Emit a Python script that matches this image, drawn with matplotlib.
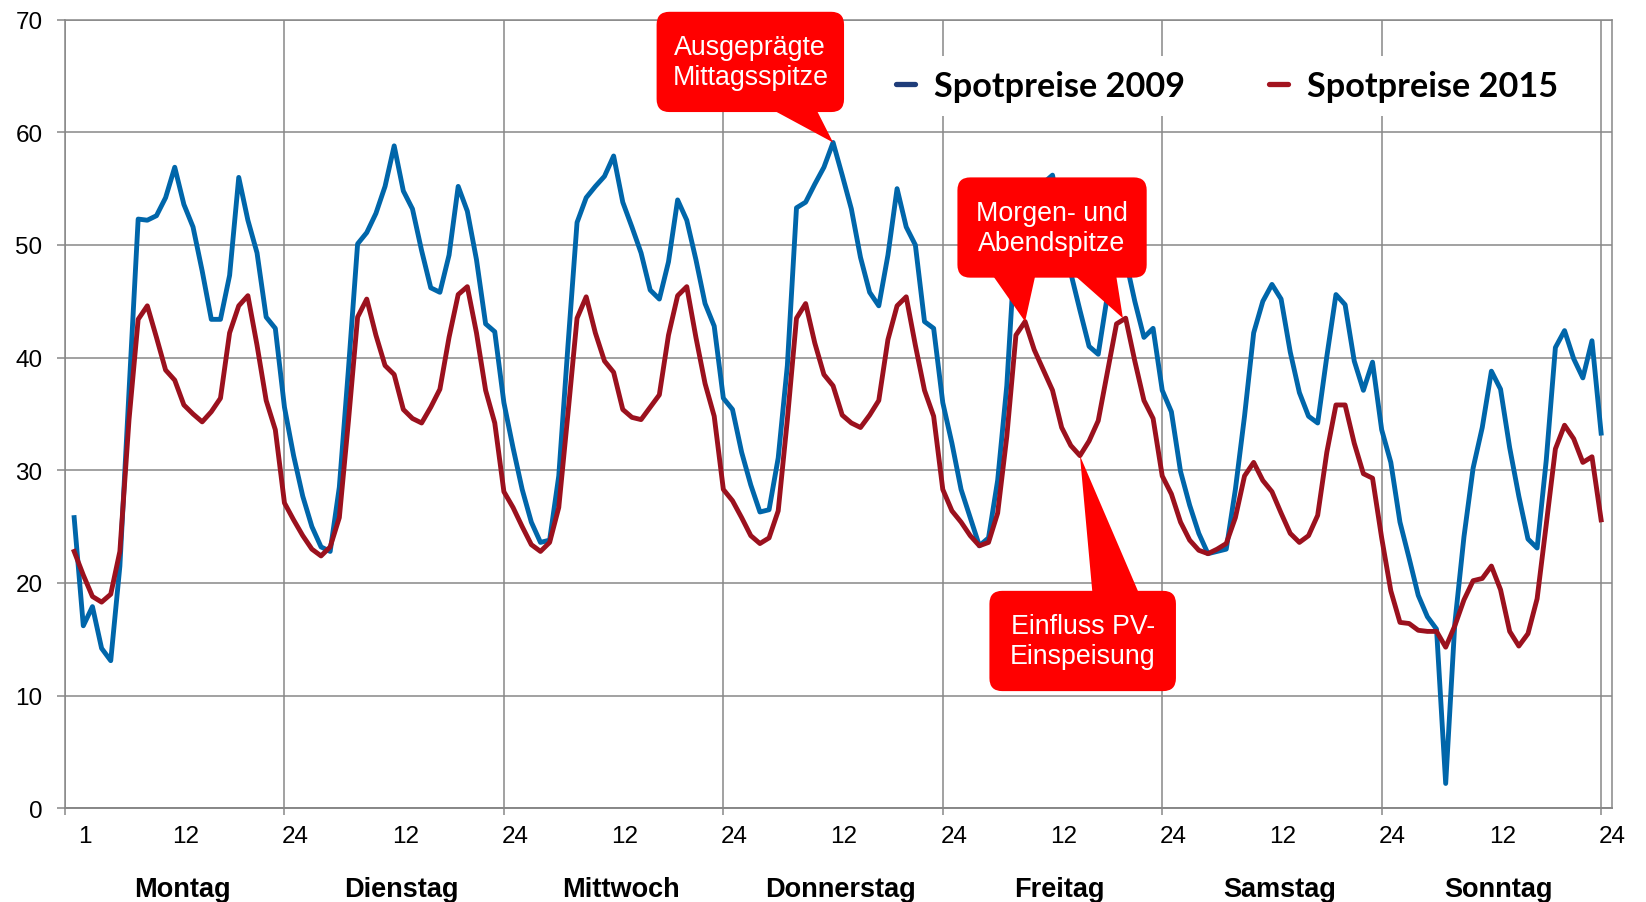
import numpy as np
import matplotlib.pyplot as plt
from matplotlib.patches import FancyBboxPatch, Polygon
from matplotlib.lines import Line2D

# Stundenwerte einer Woche (Mo 1 Uhr ... So 24 Uhr), Spotpreise in EUR/MWh
hours = np.arange(1, 169)
preise_2009 = [
    25.8, 16.2, 17.9, 14.2, 13.1, 21.5, 37.0, 52.3, 52.2, 52.6, 54.2, 56.9,
    53.6, 51.6, 47.7, 43.4, 43.4, 47.3, 56.0, 52.2, 49.3, 43.6, 42.6, 35.6,
    31.3, 27.7, 25.0, 23.2, 22.8, 28.5, 39.0, 50.1, 51.1, 52.8, 55.2, 58.8,
    54.8, 53.2, 49.5, 46.2, 45.8, 49.1, 55.2, 53.0, 48.7, 43.0, 42.3, 36.0,
    32.0, 28.3, 25.4, 23.6, 23.8, 29.5, 41.0, 52.0, 54.2, 55.2, 56.1, 57.9,
    53.8, 51.6, 49.3, 46.0, 45.2, 48.5, 54.0, 52.2, 48.7, 44.8, 42.8, 36.4,
    35.4, 31.6, 28.7, 26.3, 26.5, 31.1, 39.3, 53.3, 53.8, 55.4, 56.9, 59.1,
    56.2, 53.2, 48.9, 45.8, 44.6, 49.1, 55.0, 51.6, 50.0, 43.2, 42.6, 36.0,
    32.4, 28.3, 25.8, 23.3, 24.0, 29.1, 37.5, 51.0, 53.0, 54.0, 55.5, 56.2,
    52.0, 47.5, 44.2, 41.0, 40.3, 45.5, 50.5, 48.7, 45.0, 41.8, 42.6, 37.1,
    35.2, 29.9, 26.9, 24.4, 22.6, 22.8, 23.0, 28.3, 34.8, 42.2, 45.0, 46.5,
    45.2, 40.5, 36.9, 34.8, 34.2, 40.1, 45.6, 44.7, 39.7, 37.1, 39.6, 33.6,
    30.7, 25.4, 22.2, 18.9, 17.0, 15.9, 2.2, 16.4, 24.1, 30.2, 33.8, 38.8,
    37.2, 32.0, 27.7, 23.9, 23.1, 30.9, 40.9, 42.4, 39.9, 38.2, 41.5, 33.3,
]
preise_2015 = [
    22.8, 20.7, 18.8, 18.3, 19.0, 22.8, 34.5, 43.4, 44.6, 41.8, 38.9, 38.0,
    35.8, 35.0, 34.3, 35.2, 36.4, 42.2, 44.6, 45.5, 41.1, 36.2, 33.6, 27.1,
    25.6, 24.2, 23.0, 22.4, 23.2, 25.8, 34.4, 43.6, 45.2, 42.0, 39.3, 38.5,
    35.4, 34.6, 34.2, 35.6, 37.2, 41.8, 45.6, 46.3, 42.2, 37.1, 34.2, 28.1,
    26.7, 25.0, 23.4, 22.8, 23.6, 26.7, 35.0, 43.5, 45.4, 42.2, 39.7, 38.7,
    35.4, 34.7, 34.5, 35.6, 36.7, 42.0, 45.5, 46.3, 41.8, 37.7, 34.8, 28.3,
    27.3, 25.8, 24.2, 23.5, 24.0, 26.4, 34.5, 43.5, 44.8, 41.3, 38.5, 37.5,
    34.9, 34.2, 33.8, 34.9, 36.2, 41.6, 44.6, 45.4, 41.1, 37.1, 34.8, 28.3,
    26.4, 25.4, 24.2, 23.3, 23.6, 26.2, 33.0, 42.0, 43.2, 40.7, 38.9, 37.1,
    33.8, 32.2, 31.3, 32.6, 34.4, 38.7, 43.0, 43.5, 39.7, 36.2, 34.6, 29.5,
    27.9, 25.4, 23.8, 22.9, 22.6, 23.0, 23.5, 25.8, 29.5, 30.7, 29.1, 28.1,
    26.2, 24.4, 23.6, 24.2, 26.0, 31.6, 35.8, 35.8, 32.4, 29.7, 29.3, 24.0,
    19.3, 16.5, 16.4, 15.8, 15.7, 15.7, 14.3, 16.2, 18.5, 20.2, 20.4, 21.5,
    19.4, 15.7, 14.4, 15.5, 18.6, 25.2, 31.9, 34.0, 32.8, 30.7, 31.2, 25.6,
]
tage = ['Montag', 'Dienstag', 'Mittwoch', 'Donnerstag', 'Freitag', 'Samstag', 'Sonntag']
stunden_pos = [1] + [p for d in range(7) for p in (24 * d + 12, 24 * d + 24)]
stunden_txt = ['1'] + ['12', '24'] * 7

BLAU = '#0066AA'
ROT = '#9B111E'
GRID = '#878787'
CALLOUT = '#FF0000'
FONT = ['Liberation Sans', 'DejaVu Sans']

fig = plt.figure(figsize=(16.46, 9.03), dpi=100)
ax = fig.add_axes([0.0395, 0.1038, 0.9399, 0.8733])

ax.plot(hours, preise_2009, color=BLAU, lw=3.5, zorder=3)
ax.plot(hours, preise_2015, color=ROT, lw=3.5, zorder=3)

ax.set_xlim(0, 168)
ax.set_ylim(0, 70)
ax.set_yticks(np.arange(0, 71, 10))
ax.set_xticks(np.arange(0, 169, 24))
ax.set_xticklabels([])
# Stundenbeschriftung leicht rechts versetzt wie in der Excel-Vorlage
ax.set_xticks([p + 1.2 for p in stunden_pos], minor=True)
ax.set_xticklabels(stunden_txt, minor=True, fontsize=17.5, family=FONT)
ax.tick_params(axis='x', which='minor', length=0, pad=12)
ax.tick_params(axis='x', which='major', length=5, width=1.1, color=GRID)
ax.tick_params(axis='y', length=5.8, width=1.1, color=GRID, pad=10.5, labelsize=17.5)
for lab in ax.get_yticklabels():
    lab.set_family(FONT)

ax.grid(True, which='major', color=GRID, lw=1.1, zorder=0)
ax.set_axisbelow(True)
for s in ax.spines.values():
    s.set_color(GRID)
    s.set_linewidth(1.1)
ax.spines['bottom'].set_linewidth(1.4)

# Wochentage unter den Stundenlabels
for i, tag in enumerate(tage):
    ax.text(24 * i + 12.8, -0.111, tag, transform=ax.get_xaxis_transform(),
            ha='center', va='baseline', fontsize=19.5, fontweight='bold', family=FONT)


def callout(box, text, tails):
    h0, v0, h1, v1 = box
    aspect = 0.817
    ax.add_patch(FancyBboxPatch((h0, v0), h1 - h0, v1 - v0,
                                boxstyle='round,pad=0,rounding_size=1.4',
                                mutation_aspect=aspect, fc=CALLOUT, ec='none',
                                zorder=5, clip_on=False))
    for b0, b1, edge, tip_h, tip_v in tails:
        ax.add_patch(Polygon([(b0, edge), (b1, edge), (tip_h, tip_v)], closed=True,
                             fc=CALLOUT, ec='none', zorder=5, clip_on=False))
    ax.text((h0 + h1) / 2, (v0 + v1) / 2, text, ha='center', va='center',
            color='white', fontsize=19.3, family=FONT, linespacing=1.2, zorder=6)


callout((64.7, 61.8, 85.2, 70.7), 'Ausgeprägte\nMittagsspitze',
        [(76.7, 82.0, 62.3, 84, preise_2009[83])])
callout((97.6, 47.1, 118.3, 56.0), 'Morgen- und\nAbendspitze',
        [(101.2, 106.2, 47.6, 105, preise_2015[104]),
         (110.0, 114.9, 47.6, 115.7, preise_2015[115])])
callout((101.1, 10.4, 121.5, 19.3), 'Einfluss PV-\nEinspeisung',
        [(112.4, 117.6, 18.8, 111, preise_2015[110])])

handles = [Line2D([], [], color='#1F3D7A', lw=3.8, solid_capstyle='round'),
           Line2D([], [], color='#A3141F', lw=3.8, solid_capstyle='round')]
leg = ax.legend(handles, ['Spotpreise 2009', 'Spotpreise 2015'], ncol=2,
                loc='center', bbox_to_anchor=(0.7455, 0.9035),
                bbox_transform=fig.transFigure, frameon=True, fancybox=False,
                prop={'family': ['Lato', 'DejaVu Sans'], 'weight': 'bold', 'size': 24.7},
                handlelength=0.55, handletextpad=0.55, columnspacing=2.45,
                borderpad=0.4)
leg.get_frame().set_facecolor('white')
leg.get_frame().set_edgecolor('none')
leg.get_frame().set_alpha(1)
leg.set_zorder(7)

fig.savefig('out.png', dpi=100)
